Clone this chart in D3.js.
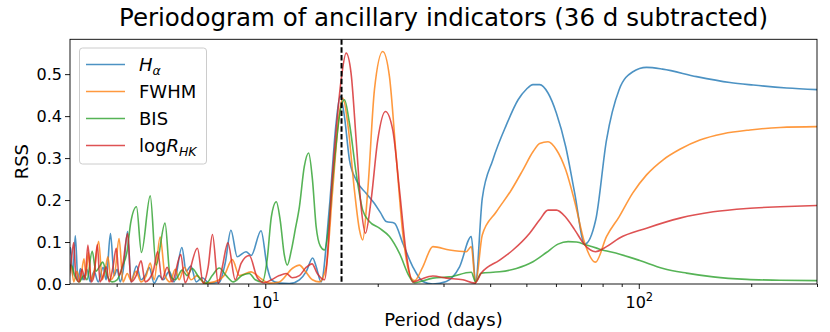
<!DOCTYPE html>
<html>
<head>
<meta charset="utf-8">
<script src="https://cdn.jsdelivr.net/npm/d3@7"></script>
<style>
  body { margin: 0; background: #fff; }
  text { font-family: "DejaVu Sans", sans-serif; }
</style>
</head>
<body>
<svg id="chart" width="830" height="332"></svg>
<script>
// periods (days) and RSS values
var haPeriod = [2.98,3.01,3.05,3.10,3.15,3.20,3.25,3.33,3.40,3.48,3.57,3.68,3.75,3.85,3.94,4.01,4.09,4.16,4.28,4.37,4.52,4.65,4.77,4.89,5.04,5.20,5.33,5.53,5.70,5.98,6.14,6.32,6.53,6.78,7.08,7.53,7.81,8.09,8.41,8.88,9.17,9.74,10.12,10.38,10.90,11.60,12.34,12.88,13.39,13.70,14.10,14.85,15.47,15.86,16.29,16.80,17.51,18.62,19.60,20.34,21.07,22.17,23.34,24.83,26.41,28.09,30.52,33.12,35.61,36.56,38.10,40.68,44.20,47.52,50.01,52.08,54.28,57.14,60.18,63.73,67.37,71.66,76.69,81.94,88.57,96.19,104.9,115.8,142.8,175.4,202.5,248.9,300];
var haRss = [0.06,0.087,0.02,0.115,0.01,0.037,0.01,0.035,0.005,0.03,0.005,0.04,0.01,0.12,0.02,0.035,0.005,0.03,0.125,0.005,0.043,0.01,0.02,0.039,0.002,0.02,0.01,0.03,0.005,0.087,0.03,0.043,0.005,0.015,0.002,0.004,0.05,0.128,0.065,0.077,0.068,0.127,0.04,0.01,0.002,0.001,0.01,0.03,0.062,0.04,0.005,0.184,0.383,0.447,0.399,0.296,0.248,0.216,0.192,0.17,0.149,0.145,0.097,0.041,0.006,0.0,0.006,0.041,0.113,0.005,0.204,0.296,0.379,0.439,0.464,0.475,0.475,0.455,0.407,0.327,0.216,0.095,0.153,0.343,0.463,0.505,0.516,0.512,0.494,0.48,0.474,0.467,0.463];

var fwhmPeriod = [2.98,3.02,3.07,3.13,3.19,3.27,3.31,3.36,3.42,3.48,3.58,3.66,3.72,3.79,3.86,3.96,4.06,4.16,4.27,4.37,4.51,4.65,4.80,4.92,5.04,5.23,5.39,5.56,5.74,5.88,6.07,6.33,6.57,6.86,7.30,7.76,8.16,8.52,9.16,9.52,9.76,10.25,10.90,11.81,12.34,12.80,13.37,13.96,14.55,15.15,15.79,16.12,16.62,17.32,17.87,18.23,18.81,19.60,20.63,21.50,22.41,23.34,24.58,25.09,26.41,28.09,31.14,34.53,35.61,36.56,38.10,41.55,45.58,48.96,52.08,54.28,57.14,60.18,63.73,67.37,71.66,76.56,81.94,88.57,96.19,104.9,116.2,128.8,145.7,168.3,198.4,238.8,300];
var fwhmRss = [0.02,0.045,0.005,0.03,0.005,0.06,0.02,0.075,0.01,0.03,0.102,0.01,0.03,0.065,0.01,0.03,0.108,0.005,0.025,0.008,0.03,0.005,0.02,0.05,0.01,0.112,0.02,0.005,0.035,0.01,0.04,0.01,0.02,0.002,0.005,0.02,0.058,0.02,0.029,0.02,0.012,0.002,0.005,0.037,0.045,0.03,0.01,0.005,0.04,0.224,0.407,0.443,0.383,0.224,0.129,0.105,0.224,0.463,0.554,0.494,0.304,0.121,0.014,0.008,0.041,0.089,0.081,0.077,0.089,0.002,0.117,0.172,0.224,0.272,0.315,0.335,0.339,0.32,0.272,0.196,0.097,0.052,0.113,0.16,0.216,0.26,0.296,0.321,0.343,0.358,0.367,0.373,0.375];

var bisPeriod = [2.98,3.02,3.09,3.17,3.27,3.33,3.44,3.52,3.59,3.67,3.77,3.89,4.01,4.14,4.27,4.36,4.52,4.66,4.92,5.10,5.39,5.56,5.74,5.99,6.18,6.37,6.65,6.95,7.21,7.53,7.86,8.21,8.68,9.06,9.40,9.82,10.12,10.38,10.70,10.97,11.24,11.45,11.74,12.03,12.34,12.72,13.06,13.37,13.68,14.04,14.40,14.75,15.15,15.96,16.29,16.80,17.51,18.23,19.00,20.21,21.50,22.87,24.33,25.09,28.09,31.14,35.61,36.56,37.87,42.40,47.01,52.08,56.58,60.77,64.65,68.09,72.43,78.61,88.94,100.6,116.2,134.3,158.2,194.5,238.8,300];
var bisRss = [0.04,0.045,0.02,0.005,0.02,0.01,0.078,0.03,0.04,0.052,0.02,0.005,0.01,0.04,0.08,0.145,0.184,0.075,0.21,0.045,0.145,0.02,0.01,0.033,0.02,0.037,0.015,0.002,0.02,0.038,0.02,0.005,0.021,0.025,0.01,0.005,0.06,0.16,0.196,0.15,0.07,0.045,0.08,0.13,0.184,0.28,0.312,0.25,0.137,0.09,0.081,0.13,0.248,0.423,0.439,0.383,0.264,0.176,0.149,0.133,0.113,0.073,0.017,0.003,0.014,0.017,0.028,0.005,0.026,0.029,0.037,0.053,0.075,0.095,0.101,0.1,0.093,0.083,0.071,0.056,0.037,0.026,0.017,0.011,0.009,0.008];

var rhkPeriod = [2.98,3.02,3.07,3.11,3.17,3.23,3.29,3.35,3.42,3.48,3.55,3.61,3.68,3.75,3.82,3.91,3.99,4.06,4.16,4.28,4.37,4.51,4.65,4.77,5.01,5.15,5.29,5.46,5.63,5.94,6.10,6.58,6.82,7.03,7.22,7.48,7.67,7.94,8.31,8.62,9.06,9.52,9.94,10.38,10.90,11.38,11.81,12.34,12.88,13.34,13.78,14.40,15.15,15.96,16.46,16.97,17.51,18.05,18.54,19.20,20.00,20.97,21.94,22.87,23.84,24.83,25.88,28.09,30.52,33.80,36.34,37.87,42.40,46.03,51.03,54.28,57.14,60.18,63.73,67.37,71.66,76.56,81.94,88.57,104.9,128.8,158.2,194.5,238.8,300];
var rhkRss = [0.01,0.05,0.099,0.02,0.005,0.035,0.01,0.093,0.005,0.02,0.094,0.005,0.02,0.041,0.005,0.04,0.085,0.02,0.05,0.12,0.005,0.02,0.055,0.005,0.03,0.077,0.01,0.04,0.005,0.07,0.003,0.085,0.002,0.04,0.118,0.002,0.04,0.098,0.01,0.05,0.068,0.015,0.003,0.01,0.02,0.025,0.015,0.02,0.04,0.048,0.025,0.01,0.264,0.486,0.55,0.502,0.343,0.184,0.121,0.2,0.343,0.411,0.367,0.224,0.073,0.005,0.01,0.019,0.014,0.01,0.002,0.026,0.057,0.081,0.121,0.153,0.176,0.176,0.159,0.129,0.093,0.077,0.089,0.109,0.133,0.157,0.172,0.18,0.184,0.187];

var seriesNames = ["Ha", "FWHM", "BIS", "logRHK"];
var seriesColors = ["#1f77b4", "#ff7f0e", "#2ca02c", "#d62728"];
var subtractedPeriod = 16;
var yTicks = [0, 0.1, 0.2, 0.3, 0.4, 0.5];
var xMajor = [10, 100];
var xMinor = [4,5,6,7,8,9,20,30,40,50,60,70,80,90,200,300];

(function draw() {
  var pLeft = 70, pRight = 817, pTop = 39.3, pBottom = 284;

  var svg = d3.select("#chart");
  svg.append("rect").attr("width", 830).attr("height", 332).attr("fill", "#fff");

  var x = d3.scaleLog().domain([3, 300]).range([pLeft, pRight]);
  var y = d3.scaleLinear().domain([0, 0.583]).range([pBottom, pTop]);

  svg.append("defs").append("clipPath").attr("id", "clip")
    .append("rect").attr("x", pLeft).attr("y", pTop).attr("width", pRight - pLeft).attr("height", pBottom - pTop);

  // axes
  svg.append("g").attr("transform", "translate(0," + pBottom + ")")
    .call(d3.axisBottom(x).tickValues(xMinor).tickSize(3).tickFormat(""));
  var xAxis = svg.append("g").attr("transform", "translate(0," + pBottom + ")")
    .call(d3.axisBottom(x).tickValues(xMajor).tickSize(5).tickPadding(4).tickFormat(""));
  xAxis.selectAll(".tick text").each(function(d) {
    var t = d3.select(this).attr("font-size", 16).attr("fill", "#000").attr("dy", "0.95em");
    t.append("tspan").text("10");
    t.append("tspan").attr("font-size", 11.5).attr("dy", "-0.6em").text(Math.round(Math.log10(d)));
  });
  var yAxis = svg.append("g").attr("transform", "translate(" + pLeft + ",0)")
    .call(d3.axisLeft(y).tickValues(yTicks).tickSize(5).tickPadding(3).tickFormat(d3.format(".1f")));
  yAxis.selectAll(".tick text").attr("font-size", 16).attr("fill", "#000");
  svg.selectAll(".domain").remove();
  svg.selectAll(".tick line").attr("stroke", "#000").attr("stroke-width", 0.9);

  // series
  var allPeriods = [haPeriod, fwhmPeriod, bisPeriod, rhkPeriod];
  var allRss = [haRss, fwhmRss, bisRss, rhkRss];
  var line = d3.line().x(function(d) { return x(d[0]); }).y(function(d) { return y(d[1]); })
    .curve(d3.curveMonotoneX);
  var plot = svg.append("g").attr("clip-path", "url(#clip)");
  seriesNames.forEach(function(name, i) {
    plot.append("path")
      .datum(d3.zip(allPeriods[i], allRss[i]))
      .attr("fill", "none")
      .attr("stroke", seriesColors[i])
      .attr("stroke-opacity", 0.8)
      .attr("stroke-width", 1.6)
      .attr("stroke-linejoin", "round")
      .attr("d", line);
  });

  // subtracted period marker
  plot.append("line")
    .attr("x1", x(subtractedPeriod)).attr("x2", x(subtractedPeriod))
    .attr("y1", pTop).attr("y2", pBottom)
    .attr("stroke", "#000").attr("stroke-width", 2).attr("stroke-dasharray", "5.5,2.4");

  // frame
  svg.append("rect").attr("x", pLeft).attr("y", pTop).attr("width", pRight - pLeft).attr("height", pBottom - pTop)
    .attr("fill", "none").attr("stroke", "#000").attr("stroke-width", 0.9);

  // legend
  var lg = svg.append("g");
  lg.append("rect").attr("x", 79.5).attr("y", 48).attr("width", 127).attr("height", 116).attr("rx", 3)
    .attr("fill", "#fff").attr("fill-opacity", 0.8).attr("stroke", "#ccc");
  var rows = [64.5, 91.5, 118.5, 145.5];
  seriesNames.forEach(function(name, i) {
    lg.append("line").attr("x1", 86).attr("x2", 125).attr("y1", rows[i]).attr("y2", rows[i])
      .attr("stroke", seriesColors[i]).attr("stroke-opacity", 0.8).attr("stroke-width", 1.6);
    var t = lg.append("text").attr("x", 139).attr("y", rows[i] + 6.5).attr("font-size", 18).attr("fill", "#000");
    if (name === "Ha") {
      t.append("tspan").attr("font-style", "italic").text("H");
      t.append("tspan").attr("font-style", "italic").attr("font-size", 12.5).attr("dy", 3.5).text("\u03b1");
    } else if (name === "logRHK") {
      t.append("tspan").text("log");
      t.append("tspan").attr("font-style", "italic").text("R");
      t.append("tspan").attr("font-style", "italic").attr("font-size", 12.5).attr("dy", 3.5).text("HK");
    } else {
      t.text(name);
    }
  });

  // titles
  svg.append("text").attr("x", (pLeft + pRight) / 2).attr("y", 26).attr("text-anchor", "middle")
    .attr("font-size", 24.5).attr("fill", "#000")
    .text("Periodogram of ancillary indicators (36 d subtracted)");
  svg.append("text").attr("x", (pLeft + pRight) / 2).attr("y", 326).attr("text-anchor", "middle")
    .attr("font-size", 18).attr("fill", "#000").text("Period (days)");
  svg.append("text").attr("transform", "translate(28," + (pTop + pBottom) / 2 + ") rotate(-90)")
    .attr("text-anchor", "middle").attr("font-size", 18).attr("fill", "#000").text("RSS");
})();
</script>
</body>
</html>
